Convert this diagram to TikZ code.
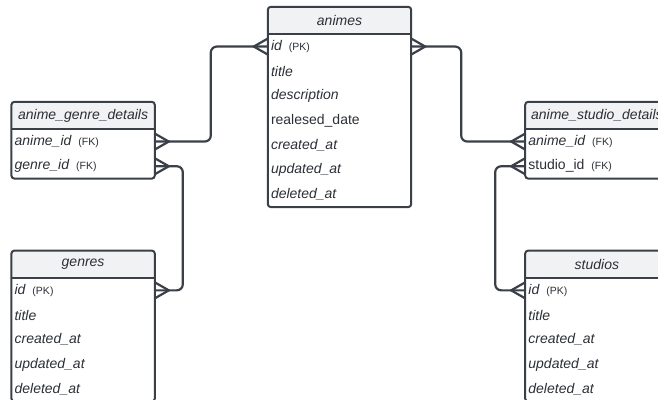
\documentclass[tikz,border=0pt]{standalone}
\usepackage{fontspec}
\setmainfont{Liberation Sans}
\usepackage{tikz}
\usetikzlibrary{positioning}
\definecolor{erline}{HTML}{3B4048}
\definecolor{erhead}{HTML}{F1F2F4}
\definecolor{ertext}{HTML}{2B2F36}

\begin{document}
\begin{tikzpicture}[
        x=1pt, y=1pt,
        hd/.style={fill=erhead, rounded corners=3pt, minimum width=143pt, minimum height=27pt,
          inner sep=0pt, font=\fontsize{14}{16}\selectfont\itshape, text=ertext},
        fld/.style={minimum width=143pt, text width=137pt, align=left, inner xsep=3pt,
          inner ysep=0pt, minimum height=24.3pt, font=\fontsize{14}{16}\selectfont\itshape, text=ertext},
        key/.style={font=\upshape\fontsize{10.5}{12}\selectfont},
        tbl/.style={draw=erline, line width=2pt, rounded corners=3pt},
        rel/.style={draw=erline, line width=2.2pt, rounded corners=6pt},
        foot/.style={draw=erline, line width=2.2pt},
        node distance=0pt
      ]
      \useasboundingbox (0,0) rectangle (658,-399);
      \clip (0,0) rectangle (658,-399);
      % animes
      \node[hd] (an) at (339.5,-20.5) {animes};
      \node[fld] (an-id) [below=of an] {id\,\ {\upshape\fontsize{10.5}{12}\selectfont(PK)}};
      \node[fld] (an-title) [below=of an-id] {title};
      \node[fld] (an-desc) [below=of an-title] {description};
      \node[fld] (an-rel) [below=of an-desc] {\upshape realesed\_date};
      \node[fld] (an-cre) [below=of an-rel] {created\_at};
      \node[fld] (an-upd) [below=of an-cre] {updated\_at};
      \node[fld] (an-del) [below=of an-upd] {deleted\_at};
      % anime_genre_details
      \node[hd] (agd) [below left=95pt and 113pt of an.north west] {anime\_genre\_details};
      \node[fld] (agd-anime) [below=of agd] {anime\_id\,\ {\upshape\fontsize{10.5}{12}\selectfont(FK)}};
      \node[fld] (agd-genre) [below=of agd-anime] {genre\_id\,\ {\upshape\fontsize{10.5}{12}\selectfont(FK)}};
      % genres
      \node[hd] (ge) [below=72pt of agd-genre] {genres};
      \node[fld] (ge-id) [below=of ge] {id\,\ {\upshape\fontsize{10.5}{12}\selectfont(PK)}};
      \node[fld] (ge-title) [below=of ge-id] {title};
      \node[fld] (ge-cre) [below=of ge-title] {created\_at};
      \node[fld] (ge-upd) [below=of ge-cre] {updated\_at};
      \node[fld] (ge-del) [below=of ge-upd] {deleted\_at};
      % anime_studio_details
      \node[hd] (asd) [below right=95pt and 114pt of an.north east] {anime\_studio\_details};
      \node[fld] (asd-anime) [below=of asd] {anime\_id\,\ {\upshape\fontsize{10.5}{12}\selectfont(FK)}};
      \node[fld] (asd-studio) [below=of asd-anime] {\upshape studio\_id\,\ {\fontsize{10.5}{12}\selectfont(FK)}};
      % studios
      \node[hd] (st) [below=72pt of asd-studio] {studios};
      \node[fld] (st-id) [below=of st] {id\,\ {\upshape\fontsize{10.5}{12}\selectfont(PK)}};
      \node[fld] (st-title) [below=of st-id] {title};
      \node[fld] (st-cre) [below=of st-title] {created\_at};
      \node[fld] (st-upd) [below=of st-cre] {updated\_at};
      \node[fld] (st-del) [below=of st-upd] {deleted\_at};
      % table borders
      \draw[tbl] (an.north west) rectangle (an-del.south east);
      \draw[tbl] (an.south west) -- (an.south east);
      \draw[tbl] (agd.north west) rectangle (agd-genre.south east);
      \draw[tbl] (agd.south west) -- (agd.south east);
      \draw[tbl] (ge.north west) rectangle (ge-del.south east);
      \draw[tbl] (ge.south west) -- (ge.south east);
      \draw[tbl] (asd.north west) rectangle (asd-studio.south east);
      \draw[tbl] (asd.south west) -- (asd.south east);
      \draw[tbl] (st.north west) rectangle (st-del.south east);
      \draw[tbl] (st.south west) -- (st.south east);
      % relations
      \draw[rel] (an-id.west) -- ++(-57,0) |- (agd-anime.east);
      \draw[rel] (an-id.east) -- ++(50,0) |- (asd-anime.west);
      \draw[rel] (agd-genre.east) -- ++(28,0) |- (ge-id.east);
      \draw[rel] (asd-studio.west) -- ++(-30,0) |- (st-id.west);
      % crow's feet
      \draw[foot] ([yshift=8pt]an-id.west) -- ([xshift=-14pt]an-id.west) -- ([yshift=-8pt]an-id.west);
      \draw[foot] ([yshift=8pt]an-id.east) -- ([xshift=14pt]an-id.east) -- ([yshift=-8pt]an-id.east);
      \draw[foot] ([yshift=8pt]agd-anime.east) -- ([xshift=14pt]agd-anime.east) -- ([yshift=-8pt]agd-anime.east);
      \draw[foot] ([yshift=8pt]agd-genre.east) -- ([xshift=14pt]agd-genre.east) -- ([yshift=-8pt]agd-genre.east);
      \draw[foot] ([yshift=8pt]ge-id.east) -- ([xshift=14pt]ge-id.east) -- ([yshift=-8pt]ge-id.east);
      \draw[foot] ([yshift=8pt]asd-anime.west) -- ([xshift=-14pt]asd-anime.west) -- ([yshift=-8pt]asd-anime.west);
      \draw[foot] ([yshift=8pt]asd-studio.west) -- ([xshift=-14pt]asd-studio.west) -- ([yshift=-8pt]asd-studio.west);
      \draw[foot] ([yshift=8pt]st-id.west) -- ([xshift=-14pt]st-id.west) -- ([yshift=-8pt]st-id.west);
    \end{tikzpicture}
\end{document}
